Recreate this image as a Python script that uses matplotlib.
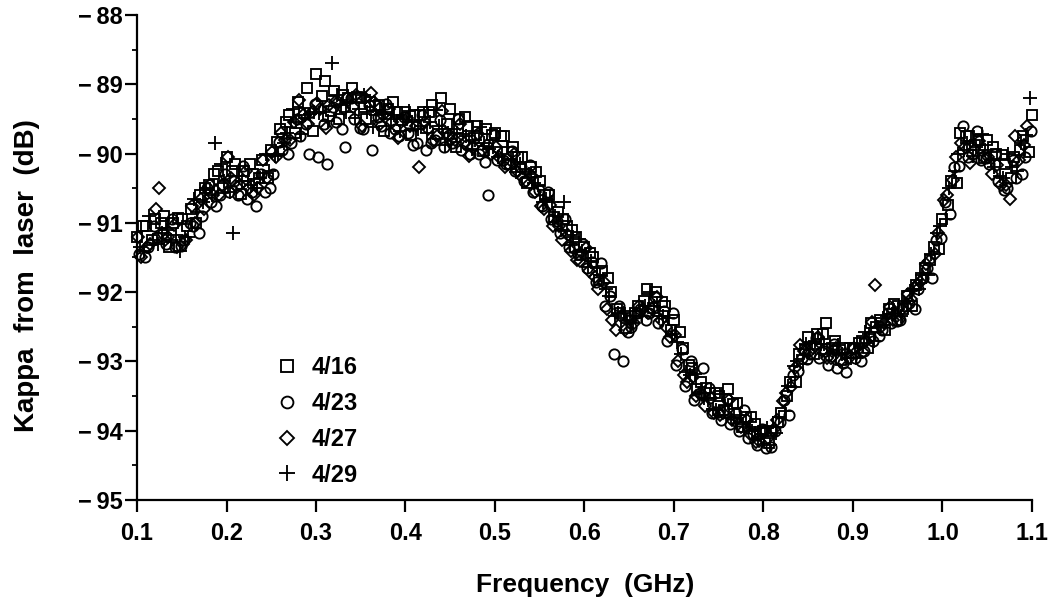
#!/usr/bin/env python3
"""
Kappa from laser versus frequency, four measurement dates.
"""

import numpy as np
import matplotlib
matplotlib.use("Agg")
import matplotlib.pyplot as plt
from matplotlib.ticker import MultipleLocator, FuncFormatter


dates = ["4/16", "4/23", "4/27", "4/29"]

# frequency grids (GHz); each date has two interleaved sweeps
freq_0416 = np.linspace(0.100, 1.100, 101)
freq_0423 = np.linspace(0.1025, 1.0925, 100)
freq_0427 = np.linspace(0.105, 1.095, 100)
freq_0429 = np.linspace(0.1075, 1.0975, 100)

freq_0416_b = np.linspace(0.10625, 1.09625, 100)
freq_0423_b = np.linspace(0.10875, 1.09875, 100)
freq_0427_b = np.linspace(0.10125, 1.09125, 100)
freq_0429_b = np.linspace(0.10375, 1.09375, 100)

kappa_0416 = [
    -91.20, -91.05, -90.95, -90.90, -91.00, -90.95, -90.80, -90.60, -90.45, -90.25,
    -90.05, -90.15, -90.25, -90.30, -90.10, -89.95, -89.65, -89.45, -89.25, -89.05,
    -88.85, -88.95, -89.10, -89.15, -89.05, -89.20, -89.25, -89.30, -89.35, -89.40,
    -89.40, -89.45, -89.40, -89.30, -89.20, -89.35, -89.50, -89.60, -89.60, -89.65,
    -89.70, -89.75, -89.90, -90.05, -90.20, -90.40, -90.60, -90.85, -91.05, -91.20,
    -91.35, -91.50, -91.70, -92.00, -92.30, -92.35, -92.20, -91.95, -92.00, -92.20,
    -92.40, -92.80, -93.10, -93.30, -93.45, -93.50, -93.40, -93.60, -93.80, -93.90,
    -94.00, -94.00, -93.75, -93.30, -92.90, -92.65, -92.60, -92.45, -92.70, -92.80,
    -92.80, -92.70, -92.45, -92.40, -92.25, -92.20, -92.05, -91.90, -91.65, -91.35,
    -90.95, -90.40, -89.70, -89.75, -89.80, -89.80, -90.00, -90.15, -90.05, -89.75,
    -89.45,
]

kappa_0423 = [
    -91.45, -91.35, -91.20, -91.30, -91.35, -91.25, -91.05, -90.90, -90.70, -90.60,
    -90.55, -90.60, -90.65, -90.75, -90.55, -90.30, -89.95, -89.85, -89.75, -90.00,
    -90.05, -90.15, -89.55, -89.90, -89.50, -89.65, -89.95, -89.60, -89.70, -89.75,
    -89.70, -89.85, -89.95, -89.80, -89.90, -89.85, -89.95, -90.00, -90.00, -90.60,
    -90.10, -90.15, -90.25, -90.40, -90.55, -90.75, -90.95, -91.15, -91.35, -91.45,
    -91.65, -91.85, -92.20, -92.90, -93.00, -92.50, -92.25, -92.30, -92.45, -92.70,
    -93.05, -93.35, -93.55, -93.10, -93.75, -93.85, -93.90, -94.00, -94.10, -94.20,
    -94.25, -94.00, -93.55, -93.20, -92.95, -92.90, -92.95, -93.05, -93.10, -93.15,
    -92.95, -92.85, -92.70, -92.55, -92.45, -92.40, -92.15, -91.95, -91.65, -91.25,
    -90.70, -90.20, -89.60, -90.00, -90.10, -90.15, -90.40, -90.50, -90.35, -90.05,
]

kappa_0427 = [
    -91.50, -91.30, -90.50, -91.20, -91.35, -91.25, -91.00, -90.80, -90.60, -90.45,
    -90.35, -90.45, -90.50, -90.50, -90.35, -90.05, -89.80, -89.55, -89.45, -89.40,
    -89.35, -89.30, -89.25, -89.20, -89.15, -89.20, -89.25, -89.45, -89.55, -89.55,
    -89.60, -90.20, -89.65, -89.75, -89.70, -89.80, -89.85, -89.90, -89.95, -90.00,
    -90.05, -90.15, -90.25, -90.40, -90.55, -90.80, -91.05, -91.25, -91.40, -91.55,
    -91.70, -91.95, -92.25, -92.55, -92.55, -92.45, -92.25, -92.25, -92.40, -92.65,
    -93.00, -93.30, -93.50, -93.65, -93.75, -93.75, -93.85, -93.95, -94.05, -94.15,
    -94.10, -93.85, -93.45, -93.10, -92.85, -92.80, -92.85, -92.95, -93.00, -92.95,
    -92.85, -92.70, -91.90, -92.45, -92.40, -92.25, -92.10, -91.85, -91.55, -91.15,
    -90.60, -90.05, -89.90, -89.95, -90.05, -90.30, -90.45, -90.65, -90.10, -89.60,
]

kappa_0429 = [
    -91.40, -91.25, -91.15, -91.25, -91.40, -91.20, -90.85, -90.50, -89.85, -90.40,
    -91.15, -90.40, -90.45, -90.35, -90.25, -90.00, -89.70, -89.55, -89.45, -89.40,
    -89.40, -88.70, -89.30, -89.25, -89.35, -89.40, -89.45, -89.40, -89.45, -89.50,
    -89.55, -89.60, -89.55, -89.60, -89.70, -89.70, -89.75, -89.80, -89.85, -89.90,
    -90.00, -90.10, -90.15, -90.30, -90.45, -90.65, -90.90, -90.70, -91.20, -91.40,
    -91.55, -91.75, -92.05, -92.30, -92.40, -92.35, -92.20, -92.20, -92.35, -92.60,
    -92.90, -93.20, -93.45, -93.55, -93.70, -93.65, -93.80, -93.90, -94.00, -94.05,
    -94.20, -93.80, -93.35, -93.00, -92.75, -92.70, -92.75, -92.85, -92.90, -92.95,
    -92.75, -92.60, -92.50, -92.35, -92.30, -92.15, -91.95, -91.75, -91.45, -91.05,
    -90.50, -90.00, -89.85, -89.90, -89.95, -90.20, -90.35, -90.20, -89.85, -89.20,
]

kappa_0416_b = [
    -91.05, -91.25, -91.00, -91.35, -90.93, -91.05, -91.00, -90.50, -90.30, -90.50,
    -90.25, -90.58, -90.15, -90.35, -90.35, -89.83, -89.55, -89.70, -89.42, -89.68,
    -89.17, -89.38, -89.50, -89.20, -89.18, -89.50, -89.32, -89.68, -89.25, -89.52,
    -89.73, -89.45, -89.40, -89.72, -89.58, -89.90, -89.47, -89.78, -89.97, -89.73,
    -89.75, -90.15, -90.05, -90.43, -90.27, -90.60, -90.92, -90.95, -91.10, -91.46,
    -91.44, -91.82, -91.80, -92.25, -92.52, -92.30, -92.13, -92.23, -92.14, -92.54,
    -92.57, -93.05, -93.40, -93.38, -93.46, -93.70, -93.62, -93.94, -93.80, -94.02,
    -94.18, -93.88, -93.50, -93.30, -92.84, -92.90, -92.60, -92.80, -92.98, -92.80,
    -92.73, -92.80, -92.50, -92.54, -92.17, -92.25, -92.20, -91.80, -91.53, -91.38,
    -90.74, -90.42, -89.75, -89.88, -90.07, -89.90, -90.02, -90.35, -89.95, -89.98,
]

kappa_0423_b = [
    -91.50, -91.05, -91.15, -90.95, -91.33, -91.00, -91.15, -90.50, -90.75, -90.30,
    -90.40, -90.18, -90.55, -90.30, -90.50, -89.83, -90.00, -89.50, -89.57, -89.28,
    -89.57, -89.33, -89.65, -89.20, -89.63, -89.30, -89.47, -89.28, -89.65, -89.47,
    -89.88, -89.45, -89.85, -89.52, -89.73, -89.50, -89.87, -89.73, -90.12, -89.73,
    -90.10, -89.97, -90.20, -90.16, -90.52, -90.55, -90.97, -90.95, -91.37, -91.30,
    -91.57, -91.58, -92.05, -92.20, -92.57, -92.30, -92.40, -92.07, -92.27, -92.30,
    -92.82, -93.00, -93.45, -93.38, -93.73, -93.54, -93.75, -93.70, -94.05, -93.97,
    -94.23, -93.88, -93.77, -93.14, -92.97, -92.66, -92.85, -92.75, -93.03, -92.80,
    -93.00, -92.64, -92.63, -92.30, -92.42, -92.20, -92.25, -91.80, -91.80, -91.22,
    -90.87, -90.18, -90.05, -89.68, -90.07, -90.00, -90.52, -90.10, -90.30, -89.68,
]

kappa_0427_b = [
    -91.20, -91.35, -90.80, -91.25, -91.03, -91.30, -90.75, -90.65, -90.45, -90.60,
    -90.05, -90.48, -90.25, -90.60, -90.10, -89.98, -89.70, -89.80, -89.22, -89.58,
    -89.27, -89.63, -89.25, -89.35, -89.33, -89.60, -89.12, -89.58, -89.35, -89.77,
    -89.48, -89.60, -89.55, -89.82, -89.38, -89.80, -89.57, -90.03, -89.72, -89.88,
    -89.90, -90.20, -90.00, -90.36, -90.32, -90.75, -90.74, -91.05, -91.17, -91.53,
    -91.37, -91.78, -91.85, -92.40, -92.34, -92.40, -92.20, -92.30, -92.07, -92.50,
    -92.62, -93.20, -93.22, -93.48, -93.53, -93.77, -93.55, -93.90, -93.85, -94.17,
    -94.00, -93.98, -93.57, -93.37, -92.77, -92.86, -92.65, -92.95, -92.80, -92.90,
    -92.80, -92.87, -92.43, -92.50, -92.22, -92.40, -92.02, -91.90, -91.60, -91.45,
    -90.67, -90.38, -89.85, -90.13, -89.82, -90.05, -90.17, -90.45, -89.75, -89.88,
]

kappa_0429_b = [
    -91.35, -90.90, -91.30, -91.10, -91.18, -91.20, -90.65, -90.70, -90.60, -90.15,
    -90.55, -90.33, -90.40, -90.50, -90.00, -90.03, -89.85, -89.35, -89.72, -89.43,
    -89.42, -89.53, -89.15, -89.40, -89.48, -89.15, -89.62, -89.43, -89.50, -89.67,
    -89.38, -89.65, -89.70, -89.37, -89.88, -89.65, -89.72, -89.93, -89.62, -89.93,
    -90.05, -89.90, -90.27, -90.23, -90.42, -90.70, -90.70, -91.10, -91.32, -91.23,
    -91.64, -91.65, -91.95, -92.35, -92.30, -92.45, -92.35, -92.00, -92.34, -92.37,
    -92.72, -93.15, -93.18, -93.53, -93.68, -93.47, -93.82, -93.77, -93.95, -94.12,
    -93.96, -94.03, -93.72, -93.07, -93.04, -92.73, -92.75, -92.90, -92.76, -92.95,
    -92.95, -92.57, -92.70, -92.37, -92.32, -92.35, -91.98, -91.95, -91.75, -91.15,
    -90.94, -90.25, -89.95, -90.03, -89.72, -90.10, -90.32, -90.00, -90.25, -89.73,
]


def minus_label(val, pos):
    if val < 0:
        return "\u2212\u2009%d" % abs(round(val))
    return "%d" % round(val)


def make_plot():
    plt.rcParams["font.family"] = ["Liberation Sans", "DejaVu Sans"]
    plt.rcParams["font.weight"] = "bold"

    fig = plt.figure(figsize=(10.58, 6.11), dpi=100)
    ax = fig.add_axes([0.1295, 0.1817, 0.8459, 0.7938])

    series = [
        ((freq_0416, kappa_0416), (freq_0416_b, kappa_0416_b), "s", 7.4),
        ((freq_0423, kappa_0423), (freq_0423_b, kappa_0423_b), "o", 7.4),
        ((freq_0427, kappa_0427), (freq_0427_b, kappa_0427_b), "D", 6.6),
        ((freq_0429, kappa_0429), (freq_0429_b, kappa_0429_b), "+", 9.5),
    ]
    for (sweep_a, sweep_b, m, ms), lab in zip(series, dates):
        f = np.concatenate([sweep_a[0], sweep_b[0]])
        k = np.concatenate([sweep_a[1], sweep_b[1]])
        ax.plot(f, k, linestyle="none", marker=m, markersize=ms,
                markerfacecolor="none", markeredgecolor="black",
                markeredgewidth=1.35, color="black", label=lab, clip_on=False)

    ax.set_xlim(0.1, 1.1)
    ax.set_ylim(-95, -88)
    ax.xaxis.set_major_locator(MultipleLocator(0.1))
    ax.xaxis.set_major_formatter(FuncFormatter(lambda v, p: "%.1f" % v))
    ax.yaxis.set_major_locator(MultipleLocator(1))
    ax.yaxis.set_minor_locator(MultipleLocator(0.5))
    ax.yaxis.set_major_formatter(FuncFormatter(minus_label))

    for side in ["top", "right"]:
        ax.spines[side].set_visible(False)
    for side in ["left", "bottom"]:
        ax.spines[side].set_linewidth(1.6)

    ax.tick_params(axis="x", which="major", direction="out", length=8.5,
                   width=1.6, pad=7, labelsize=17)
    ax.tick_params(axis="y", which="major", direction="out", length=8.5,
                   width=1.6, pad=2, labelsize=17)
    ax.tick_params(axis="y", which="minor", direction="out", length=3.5,
                   width=1.3)

    ax.set_xlabel("Frequency  (GHz)", fontsize=19, fontweight="bold")
    ax.set_ylabel("Kappa  from  laser  (dB)", fontsize=20, fontweight="bold")
    ax.xaxis.set_label_coords(0.5006, -0.150)
    ax.yaxis.set_label_coords(-0.108, 0.462)

    ax.legend(loc="upper left", bbox_to_anchor=(0.128, 0.340), frameon=False,
              fontsize=17, handletextpad=0.46, labelspacing=0.54,
              markerscale=1.15, handlelength=1.2)

    fig.savefig("out.png", dpi=100)


def main():
    make_plot()


if __name__ == "__main__":
    main()
